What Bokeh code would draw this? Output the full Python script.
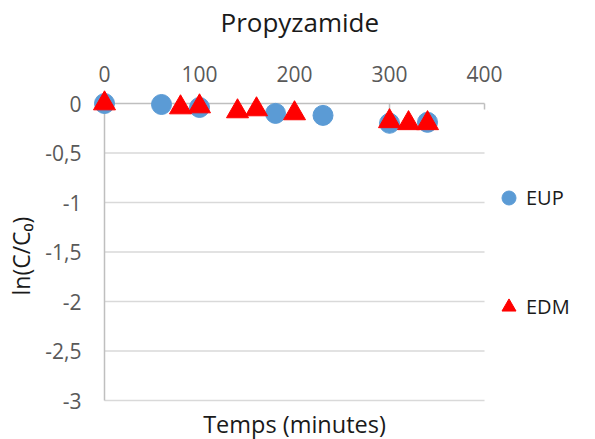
from bokeh.plotting import figure
from bokeh.models import (LinearAxis, FixedTicker, CustomJSTickFormatter, Range1d,
                          Legend, LegendItem, Title, Label)
from bokeh.embed import file_html
from bokeh.resources import INLINE

# ---- data ----
eup_t = [0, 60, 100, 180, 230, 300, 340]
eup_y = [0.0, -0.01, -0.04, -0.10, -0.12, -0.20, -0.19]
edm_t = [0, 80, 100, 140, 160, 200, 300, 320, 340]
edm_y = [0.0, -0.04, -0.03, -0.08, -0.06, -0.10, -0.18, -0.20, -0.20]
x_ticks = [0, 100, 200, 300, 400]
y_ticks = [0, -0.5, -1, -1.5, -2, -2.5, -3]

FONT = "Open Sans"
TICK_COL = "#595959"
AXIS_COL = "#BFBFBF"
GRID_COL = "#D9D9D9"
TXT_COL = "#1a1a1a"
TICK_LEN = 0.06  # data units (~6px)
Y_START, Y_END = -3.3939, 0.6465
X_START, X_END = -71.58, 508.4

p = figure(width=595, height=439, output_backend="svg", toolbar_location=None,
           x_axis_location=None, y_axis_location=None,
           x_range=Range1d(X_START, X_END), y_range=Range1d(Y_START, Y_END),
           min_border_left=36, min_border_right=8, min_border_top=39, min_border_bottom=0)
p.outline_line_color = None
p.grid.visible = False

# title
p.title.text = "Propyzamide"
p.title.align = "left"
p.title.offset = 184
p.title.standoff = 0
p.title.text_font = FONT
p.title.text_font_size = "26px"
p.title.text_font_style = "normal"
p.title.text_color = TXT_COL

# gridlines from 0 to 400 at y ticks (except 0, the x-axis line)
gy = [v for v in y_ticks if v != 0]
p.segment(x0=[x_ticks[0]] * len(gy), x1=[x_ticks[-1]] * len(gy), y0=gy, y1=gy,
          line_color=GRID_COL, line_width=1.3)
# y axis line at x=0
p.segment(x0=[x_ticks[0]], x1=[x_ticks[0]], y0=[y_ticks[-1]], y1=[y_ticks[0]],
          line_color=AXIS_COL, line_width=1.5)
# x axis line at y=0 with tick marks pointing down
p.segment(x0=[x_ticks[0]], x1=[x_ticks[-1]], y0=[0], y1=[0],
          line_color=AXIS_COL, line_width=1.5)
p.segment(x0=x_ticks, x1=x_ticks, y0=[0] * len(x_ticks), y1=[-TICK_LEN] * len(x_ticks),
          line_color=AXIS_COL, line_width=1.5)

# x tick labels above the y=0 line
xa = LinearAxis(ticker=FixedTicker(ticks=x_ticks), fixed_location=0,
                bounds=(x_ticks[0], x_ticks[-1]))
xa.axis_line_color = None
xa.major_tick_line_color = None
xa.minor_tick_line_color = None
xa.major_tick_in = 0
xa.major_tick_out = 0
xa.major_label_text_font = FONT
xa.major_label_text_font_size = "21px"
xa.major_label_text_color = TICK_COL
xa.major_label_standoff = 22
p.add_layout(xa, "above")

# y tick labels left of the x=0 line
ya = LinearAxis(ticker=FixedTicker(ticks=y_ticks), fixed_location=0,
                bounds=(y_ticks[-1], y_ticks[0]),
                formatter=CustomJSTickFormatter(code="return tick.toString().replace('.', ',');"))
ya.axis_line_color = None
ya.major_tick_line_color = None
ya.minor_tick_line_color = None
ya.major_tick_in = 0
ya.major_tick_out = 0
ya.major_label_text_font = FONT
ya.major_label_text_font_size = "21px"
ya.major_label_text_color = TICK_COL
ya.major_label_standoff = 23
p.add_layout(ya, "left")

# y axis title (left side, positioned along the 0..-3 extent)
yt = Title(text="ln(C/C\u2080)", align="left", offset=144, text_font=FONT,
           text_font_size="23px", text_font_style="normal", text_color=TXT_COL, standoff=0)
p.add_layout(yt, "left")

# x axis title at the bottom, centred under the 0..400 axis
xt = Label(x=(x_ticks[0] + x_ticks[-1]) / 2, y=Y_START, text="Temps (minutes)",
           text_align="center", text_baseline="bottom", text_font=FONT,
           text_font_size="23.5px", text_color=TXT_COL)
p.add_layout(xt)

# data
r1 = p.scatter(eup_t, eup_y, marker="circle", size=20, fill_color="#5B9BD5",
               line_color="#5B9BD5")
r2 = p.scatter(edm_t, edm_y, marker="triangle", size=22, fill_color="#FF0000",
               line_color="#FF0000")

legend = Legend(items=[LegendItem(label="EUP", renderers=[r1]),
                       LegendItem(label="EDM", renderers=[r2])],
                location=(455, 115), glyph_width=35, glyph_height=35, label_standoff=0,
                spacing=74, padding=0, margin=0, border_line_color=None,
                background_fill_alpha=0, label_text_font=FONT, label_text_font_size="20px",
                label_text_color=TXT_COL, label_height=35)
p.add_layout(legend, "center")

open("out.html", "w").write(file_html(p, INLINE))
